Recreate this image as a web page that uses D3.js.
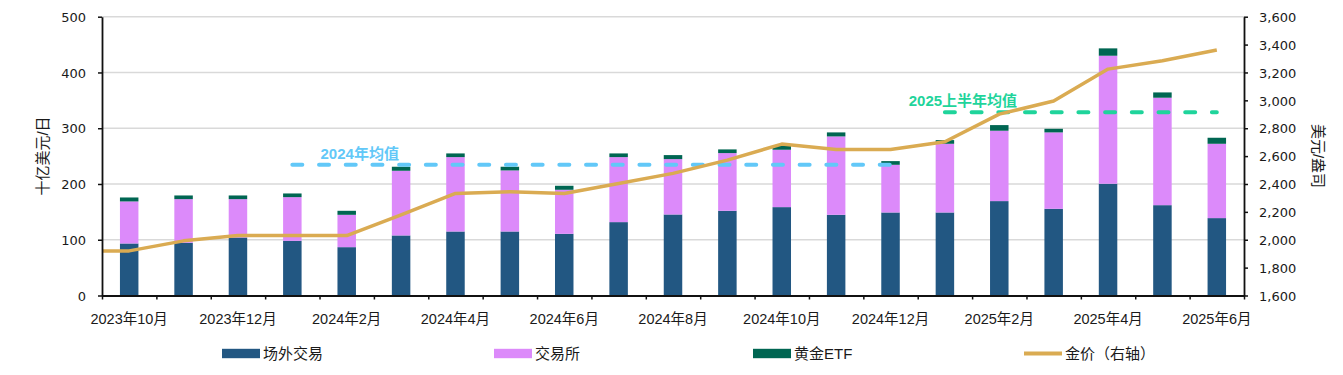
<!DOCTYPE html>
<html>
<head>
<meta charset="utf-8">
<script src="https://cdn.jsdelivr.net/npm/d3@7"></script>
<style>
    body { margin: 0; background: #fff; }
    svg { display: block; }
</style>
</head>
<body>
<svg width="1343" height="375"></svg>
<script>
const width = 1343;
const height = 375;
const margin = {
    top: 16.7,
    right: 99,
    bottom: 79.5,
    left: 102,
};

// data
const months = [
    "2023年10月", "2023年11月", "2023年12月",
    "2024年1月", "2024年2月", "2024年3月", "2024年4月", "2024年5月", "2024年6月",
    "2024年7月", "2024年8月", "2024年9月", "2024年10月", "2024年11月", "2024年12月",
    "2025年1月", "2025年2月", "2025年3月", "2025年4月", "2025年5月", "2025年6月",
];
const otc = [93.3, 94.5, 104, 98, 86.7, 107.7, 114.8, 114.8, 110.6, 131.6, 145.3,
    151.9, 158.5, 144.7, 148.9, 148.9, 169.3, 155.5, 200.4, 162, 138.8];
const exchange = [75.4, 78.3, 68.8, 78.4, 58, 116, 133.4, 109.5, 79, 116.6, 99.3,
    103.5, 102.9, 140.6, 85.5, 123.2, 126.2, 137, 229.6, 192.7, 133.3];
const etf = [7.1, 6.6, 6.6, 6.6, 7.2, 7.2, 6.6, 6.6, 7.2, 6.6, 7.2,
    6.6, 7.1, 7.2, 6.6, 6.6, 10.1, 6.5, 13.2, 9.5, 10.8];
const goldPrice = [1920, 1992, 2030, 2030, 2030, 2179, 2332, 2344, 2332, 2404, 2476,
    2571, 2686, 2648, 2648, 2703, 2901, 2995, 3224, 3284, 3361];
const avg2024 = 234.7;   // 2024年均值
const avg2025H1 = 328.7; // 2025上半年均值
const leftTicks = [0, 100, 200, 300, 400, 500];
const rightTicks = [1600, 1800, 2000, 2200, 2400, 2600, 2800, 3000, 3200, 3400, 3600];
const xLabelMonths = months.filter((d, i) => i % 2 === 0);

const keys = ["otc", "exchange", "etf"];
const seriesNames = { otc: "场外交易", exchange: "交易所", etf: "黄金ETF" };
const colors = { otc: "#225782", exchange: "#dc8afa", etf: "#006652" };
const goldColor = "#daab52";
const blueDash = "#62c8f8";
const greenDash = "#1fd49b";

const tickFont = "'DejaVu Sans', Verdana, sans-serif";
const cjkFont = "'Liberation Sans', Arial, 'Noto Sans CJK SC', sans-serif";

const tableData = months.map((m, i) => ({
    month: m,
    otc: otc[i],
    exchange: exchange[i],
    etf: etf[i],
    gold: goldPrice[i],
}));

const svg = d3.select("svg");

const x = d3.scaleBand()
    .domain(months)
    .range([margin.left, width - margin.right])
    .paddingInner(0.66)
    .paddingOuter(0.33);
const xc = (m) => x(m) + x.bandwidth() / 2;

const y = d3.scaleLinear().domain([0, 500]).range([height - margin.bottom, margin.top]);
const y2 = d3.scaleLinear().domain([1600, 3600]).range([height - margin.bottom, margin.top]);

// gridlines
svg.append("g")
    .selectAll("line")
    .data(leftTicks.filter((d) => d > 0))
    .join("line")
    .attr("x1", margin.left)
    .attr("x2", width - margin.right)
    .attr("y1", (d) => y(d))
    .attr("y2", (d) => y(d))
    .attr("stroke", "#d9d9d9")
    .attr("stroke-width", 1.5);

// stacked bars
const stackedData = d3.stack().keys(keys)(tableData);
svg.append("g")
    .selectAll("g")
    .data(stackedData)
    .join("g")
    .attr("fill", (d) => colors[d.key])
    .selectAll("rect")
    .data((d) => d)
    .join("rect")
    .attr("x", (d) => x(d.data.month))
    .attr("width", x.bandwidth())
    .attr("y", (d) => y(d[1]))
    .attr("height", (d) => y(d[0]) - y(d[1]));

// average lines
const avgLines = [
    { label: "2024年均值", value: avg2024, from: "2024年1月", to: "2024年12月", color: blueDash, labelAt: "2024年2月", dx: 13 },
    { label: "2025上半年均值", value: avg2025H1, from: "2025年1月", to: "2025年6月", color: greenDash, labelAt: "2025年1月", dx: 18 },
];
avgLines.forEach((a) => {
    svg.append("line")
        .attr("x1", xc(a.from))
        .attr("x2", xc(a.to))
        .attr("y1", y(a.value))
        .attr("y2", y(a.value))
        .attr("stroke", a.color)
        .attr("stroke-width", 4)
        .attr("stroke-linecap", "round")
        .attr("stroke-dasharray", "10,16.7");
    svg.append("text")
        .attr("x", xc(a.labelAt) + a.dx)
        .attr("y", y(a.value) - 6)
        .attr("text-anchor", "middle")
        .attr("fill", a.color)
        .attr("font-family", cjkFont)
        .attr("font-weight", "bold")
        .attr("font-size", 15)
        .text(a.label);
});

// gold price line (extends flat to the left axis)
const linePoints = [[margin.left, goldPrice[0]]].concat(
    tableData.map((d) => [xc(d.month), d.gold])
);
svg.append("path")
    .datum(linePoints)
    .attr("fill", "none")
    .attr("stroke", goldColor)
    .attr("stroke-width", 3.5)
    .attr("stroke-linejoin", "round")
    .attr("d", d3.line().x((d) => d[0]).y((d) => y2(d[1])));

// axes: lines and tick marks from d3, labels as plain text elements
const styleAxis = (sel) => {
    sel.selectAll(".domain").attr("stroke", "#111").attr("stroke-width", 1.8);
    sel.selectAll(".tick line").attr("stroke", "#111").attr("stroke-width", 1.5);
    sel.selectAll("text").remove();
};

svg.append("g")
    .attr("transform", `translate(${margin.left}, 0)`)
    .call(d3.axisLeft(y).tickValues(leftTicks).tickSize(4).tickSizeOuter(0))
    .call(styleAxis);

svg.append("g")
    .attr("transform", `translate(${width - margin.right}, 0)`)
    .call(d3.axisRight(y2).tickValues(rightTicks).tickSize(4).tickSizeOuter(0))
    .call(styleAxis);

const xEdge = d3.scaleLinear().domain([0, months.length]).range([margin.left, width - margin.right]);
svg.append("g")
    .attr("transform", `translate(0, ${height - margin.bottom})`)
    .call(d3.axisBottom(xEdge).ticks(months.length).tickSize(4).tickSizeOuter(0))
    .call(styleAxis);

const tickLabels = svg.append("g").attr("fill", "#1a1a1a");

tickLabels.selectAll("text.left")
    .data(leftTicks)
    .join("text")
    .attr("class", "left")
    .attr("x", margin.left - 16)
    .attr("y", (d) => y(d))
    .attr("dy", "0.4em")
    .attr("text-anchor", "end")
    .attr("font-family", tickFont)
    .attr("font-size", 13)
    .text((d) => d);

tickLabels.selectAll("text.right")
    .data(rightTicks)
    .join("text")
    .attr("class", "right")
    .attr("x", width - margin.right + 15)
    .attr("y", (d) => y2(d))
    .attr("dy", "0.4em")
    .attr("text-anchor", "start")
    .attr("font-family", tickFont)
    .attr("font-size", 13)
    .text(d3.format(","));

tickLabels.selectAll("text.bottom")
    .data(xLabelMonths)
    .join("text")
    .attr("class", "bottom")
    .attr("x", (d) => xc(d))
    .attr("y", height - margin.bottom + 28)
    .attr("text-anchor", "middle")
    .attr("font-family", cjkFont)
    .attr("font-size", 14.5)
    .text((d) => d);

// axis titles
svg.append("text")
    .attr("transform", `translate(48, 156) rotate(-90)`)
    .attr("text-anchor", "middle")
    .attr("fill", "#1a1a1a")
    .attr("font-family", cjkFont)
    .attr("font-size", 15)
    .text("十亿美元/日");

svg.append("text")
    .attr("transform", `translate(1313, 156) rotate(90)`)
    .attr("text-anchor", "middle")
    .attr("fill", "#1a1a1a")
    .attr("font-family", cjkFont)
    .attr("font-size", 15)
    .text("美元/盎司");

// legend
const legendItems = [
    { key: "otc", x: 222 },
    { key: "exchange", x: 494 },
    { key: "etf", x: 753 },
    { key: "gold", x: 1024 },
];
const legend = svg.append("g").attr("transform", "translate(0, 353.5)");
legendItems.forEach((item) => {
    const lg = legend.append("g").attr("transform", `translate(${item.x}, 0)`);
    if (item.key === "gold") {
        lg.append("line")
            .attr("x1", 0).attr("x2", 38)
            .attr("y1", 0).attr("y2", 0)
            .attr("stroke", goldColor)
            .attr("stroke-width", 4);
    } else {
        lg.append("rect")
            .attr("x", 0).attr("y", -4.7)
            .attr("width", 38).attr("height", 9.4)
            .attr("fill", colors[item.key]);
    }
    lg.append("text")
        .attr("x", 41)
        .attr("y", 0)
        .attr("dy", "0.35em")
        .attr("fill", "#1a1a1a")
        .attr("font-family", cjkFont)
        .attr("font-size", 15)
        .text(item.key === "gold" ? "金价（右轴）" : seriesNames[item.key]);
});
</script>
</body>
</html>
